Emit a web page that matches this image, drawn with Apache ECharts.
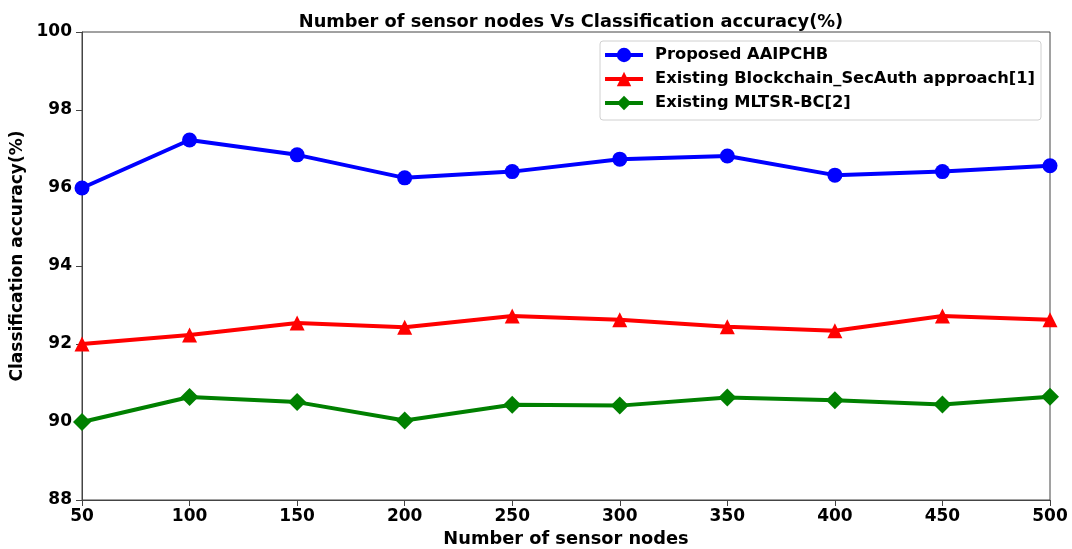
<!DOCTYPE html>
<html>
<head>
<meta charset="utf-8">
<script src="https://cdn.jsdelivr.net/npm/echarts@6/dist/echarts.min.js"></script>
<style>
  html, body { margin: 0; padding: 0; background: #fff; }
  #chart { width: 1072px; height: 549px; }
</style>
</head>
<body>
<div id="chart"></div>
<script>
// Number of sensor nodes on the x axis
const sensorNodes = [50, 100, 150, 200, 250, 300, 350, 400, 450, 500];

// Classification accuracy (%) per method
const proposedAAIPCHB = [96.00, 97.23, 96.85, 96.26, 96.42, 96.74, 96.82, 96.33, 96.42, 96.57];
const blockchainSecAuth = [92.00, 92.23, 92.54, 92.43, 92.72, 92.62, 92.44, 92.34, 92.72, 92.62];
const mltsrBC = [90.00, 90.64, 90.51, 90.04, 90.44, 90.42, 90.63, 90.56, 90.45, 90.65];

const seriesNames = [
  'Proposed AAIPCHB',
  'Existing Blockchain_SecAuth approach[1]',
  'Existing MLTSR-BC[2]'
];

const FONT = 'DejaVu Sans';
const chart = echarts.init(document.getElementById('chart'), null, { renderer: 'canvas' });

function pairs(values) {
  return sensorNodes.map((x, i) => [x, values[i]]);
}

function lineSeries(name, values, color, symbol, size) {
  return {
    name: name,
    type: 'line',
    data: pairs(values),
    symbol: symbol,
    symbolSize: size,
    lineStyle: { color: color, width: 4 },
    itemStyle: { color: color },
    clip: false,
    z: 3
  };
}

const tickText = { color: '#000', fontFamily: FONT, fontWeight: 'bold', fontSize: 17 };

chart.setOption({
  animation: false,
  backgroundColor: '#fff',
  title: {
    text: 'Number of sensor nodes Vs Classification accuracy(%)',
    left: 566,
    textAlign: 'center',
    top: 8,
    textStyle: { color: '#000', fontFamily: FONT, fontWeight: 'bold', fontSize: 17.8 }
  },
  grid: {
    left: 82, right: 22, top: 32, bottom: 49,
    outerBoundsMode: 'none',
    containLabel: false,
    show: true, borderColor: '#444', borderWidth: 1
  },
  legend: {
    orient: 'vertical',
    right: 31,
    top: 41,
    padding: [6, 6, 9, 3],
    itemGap: 8,
    itemWidth: 38,
    itemHeight: 18,
    backgroundColor: '#fff',
    borderColor: '#d0d0d0',
    borderWidth: 1,
    borderRadius: 3,
    lineStyle: { width: 4 },
    textStyle: { color: '#000', fontFamily: FONT, fontWeight: 'bold', fontSize: 16.3, padding: [0, 0, 0, 7] },
    data: seriesNames
  },
  xAxis: {
    type: 'value',
    min: 50, max: 500, interval: 50,
    name: 'Number of sensor nodes',
    nameLocation: 'middle',
    nameGap: 30,
    nameTextStyle: Object.assign({}, tickText, { fontSize: 17.8 }),
    axisLine: { show: true, lineStyle: { color: '#444', width: 1 } },
    axisTick: { show: true, length: 6, lineStyle: { color: '#444' } },
    axisLabel: Object.assign({ margin: 8 }, tickText),
    splitLine: { show: false }
  },
  yAxis: {
    type: 'value',
    min: 88, max: 100, interval: 2,
    name: 'Classification accuracy(%)',
    nameLocation: 'middle',
    nameGap: 52,
    nameTextStyle: Object.assign({}, tickText, { padding: [0, 0, 0, 20] }),
    axisLine: { show: true, lineStyle: { color: '#444', width: 1 } },
    axisTick: { show: true, length: 6, lineStyle: { color: '#444' } },
    axisLabel: Object.assign({ margin: 10 }, tickText),
    splitLine: { show: false }
  },
  series: [
    lineSeries(seriesNames[0], proposedAAIPCHB, '#0000ff', 'circle', 15),
    lineSeries(seriesNames[1], blockchainSecAuth, '#ff0000', 'triangle', 15),
    lineSeries(seriesNames[2], mltsrBC, '#008000', 'diamond', 18)
  ]
});
</script>
</body>
</html>
